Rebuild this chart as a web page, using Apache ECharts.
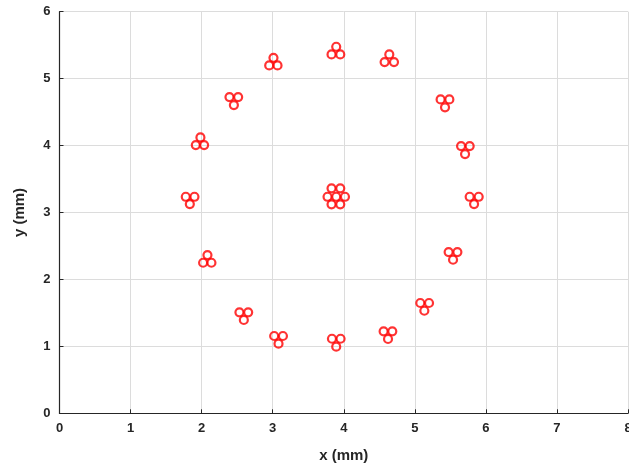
<!DOCTYPE html>
<html>
<head>
<meta charset="utf-8">
<script src="https://cdn.jsdelivr.net/npm/echarts@6/dist/echarts.min.js"></script>
<style>html,body{margin:0;padding:0;background:#fff}#c{width:629px;height:465px}</style>
</head>
<body>
<div id="c"></div>
<script>
var xTicks = [0,1,2,3,4,5,6,7,8];
var yTicks = [0,1,2,3,4,5,6];
var xValues = [
  1.777,1.899,1.834,
  1.983,1.918,2.035,
  2.392,2.514,2.454,
  3.011,2.951,3.068,
  3.894,3.828,3.951,
  4.641,4.575,4.707,
  5.363,5.486,5.425,
  5.651,5.772,5.707,
  5.772,5.899,5.834,
  3.828,3.951,3.772,3.894,4.017,3.828,3.951,
  2.082,2.021,2.138,
  2.532,2.655,2.594,
  3.021,3.144,3.082,
  3.834,3.955,3.894,
  4.561,4.683,4.623,
  5.077,5.200,5.134,
  5.476,5.599,5.538
];
var yValues = [
  3.235,3.235,3.126,
  4.122,4.007,4.007,
  4.724,4.724,4.605,
  5.311,5.198,5.198,
  5.476,5.362,5.362,
  5.362,5.247,5.247,
  4.690,4.690,4.571,
  3.993,3.993,3.873,
  3.235,3.235,3.126,
  3.361,3.361,3.235,3.235,3.235,3.122,3.122,
  2.364,2.249,2.249,
  1.509,1.509,1.394,
  1.155,1.155,1.040,
  1.114,1.114,0.995,
  1.225,1.225,1.110,
  1.648,1.648,1.532,
  2.409,2.409,2.294
];
var points = xValues.map(function(x,i){return [x, yValues[i]];});
var font = '"Liberation Sans", Arial, sans-serif';
var chart = echarts.init(document.getElementById('c'), null, {renderer:'canvas'});
chart.setOption({
  animation:false,
  backgroundColor:'#fff',
  grid:{left:59.5, right:1, top:11.7, bottom:51.7, containLabel:false, outerBoundsMode:'none'},
  xAxis:{
    type:'value', min:xTicks[0], max:xTicks[xTicks.length-1], interval:1,
    name:'x (mm)', nameLocation:'middle', nameGap:35,
    nameTextStyle:{fontFamily:font, fontSize:15, color:'#262626', fontWeight:'bold'},
    axisLine:{show:true, onZero:false, lineStyle:{color:'#262626', width:1.2}},
    axisTick:{show:true, inside:true, length:4, lineStyle:{color:'#262626'}},
    axisLabel:{fontFamily:font, fontSize:13, color:'#262626', fontWeight:'bold', margin:9, showMaxLabel:true, showMinLabel:true},
    splitLine:{show:true, lineStyle:{color:'#dcdcdc', width:1}}
  },
  yAxis:{
    type:'value', min:yTicks[0], max:yTicks[yTicks.length-1], interval:1,
    name:'y (mm)', nameLocation:'middle', nameGap:32, nameRotate:90,
    nameTextStyle:{fontFamily:font, fontSize:15, color:'#262626', fontWeight:'bold'},
    axisLine:{show:true, onZero:false, lineStyle:{color:'#262626', width:1.2}},
    axisTick:{show:true, inside:true, length:4, lineStyle:{color:'#262626'}},
    axisLabel:{fontFamily:font, fontSize:13, color:'#262626', fontWeight:'bold', margin:9, showMaxLabel:true, showMinLabel:true},
    splitLine:{show:true, lineStyle:{color:'#dcdcdc', width:1}}
  },
  series:[{
    type:'scatter',
    data:points,
    symbol:'circle',
    symbolSize:8,
    itemStyle:{color:'rgba(255,255,255,0)', borderColor:'#ff0000', borderWidth:2.2},
    emphasis:{disabled:true}
  }]
});
</script>
</body>
</html>
